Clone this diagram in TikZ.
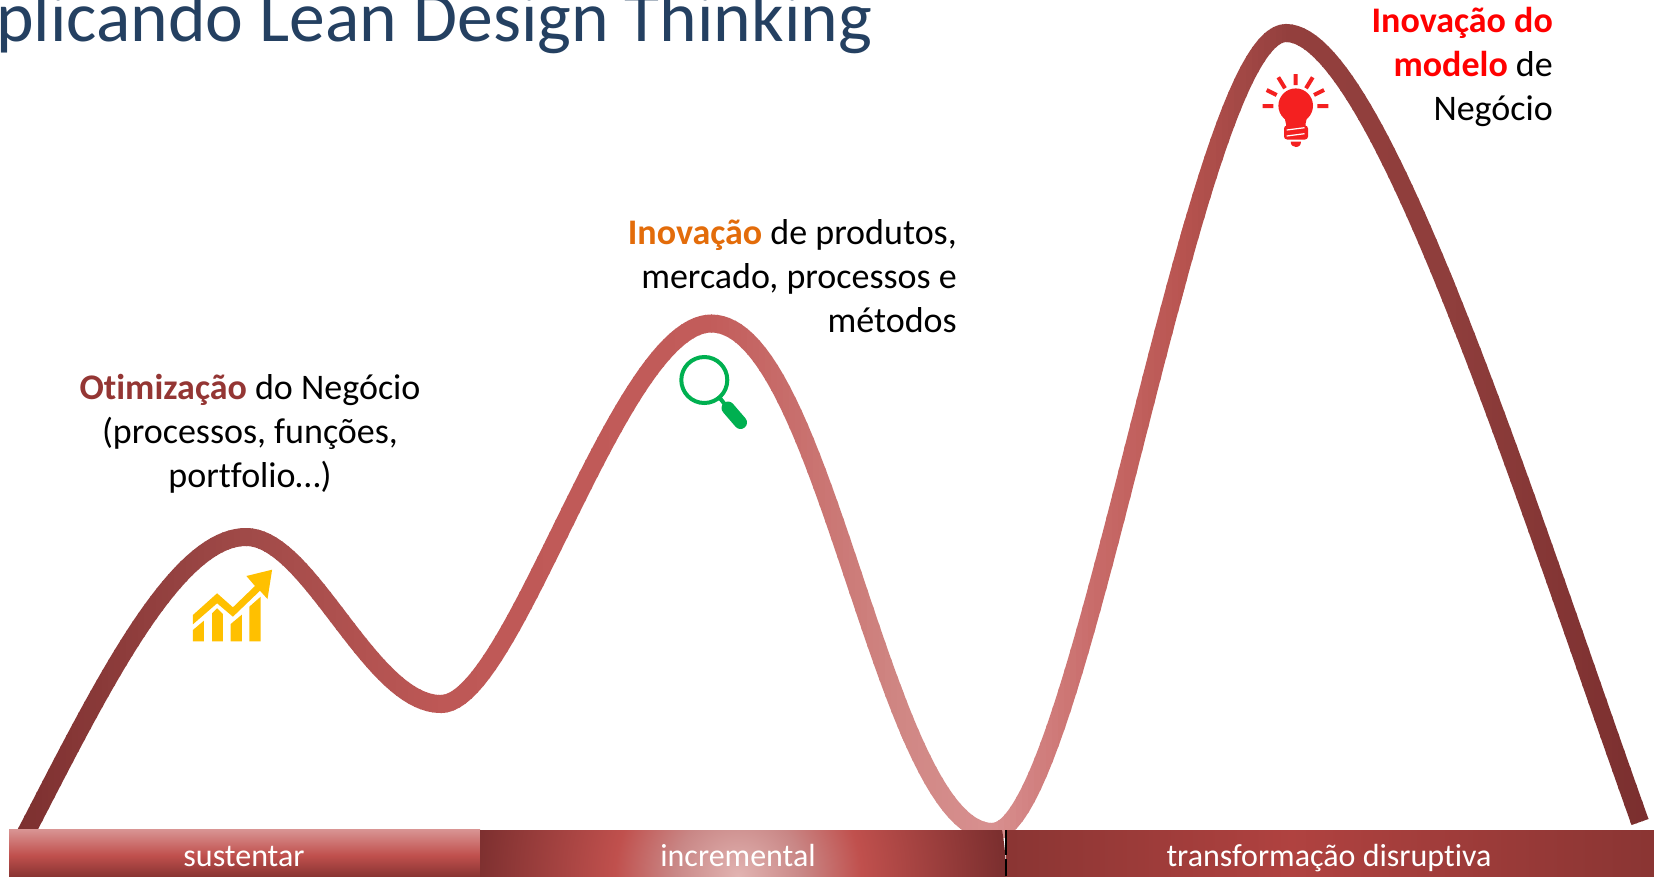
\documentclass[tikz,border=0pt]{standalone}
\usepackage{fontspec}
\setmainfont[Ligatures={NoCommon}]{Carlito}
\definecolor{titleblue}{HTML}{244061}
\definecolor{otim}{HTML}{943634}
\definecolor{inovor}{HTML}{E36C0A}
\definecolor{chartyel}{HTML}{FFC000}
\definecolor{lensgreen}{HTML}{00B050}
\definecolor{bulbred}{HTML}{F42020}
\definecolor{HexA}{HTML}{8A3533}
\definecolor{HexB}{HTML}{C0504D}
\definecolor{HexC}{HTML}{D99594}
\definecolor{HexD}{HTML}{E2B4B2}
\definecolor{HexE}{HTML}{7A2E2E}
\definecolor{HexF}{HTML}{B04240}
\definecolor{HexG}{HTML}{C98786}
\pgfdeclareverticalshading{susshade}{100bp}{color(0bp)=(HexA);color(25bp)=(HexA);color(47bp)=(HexB);color(75bp)=(HexC);color(100bp)=(HexC)}
\pgfdeclareradialshading{incshade}{\pgfpointorigin}{color(0bp)=(HexD);color(6bp)=(HexG);color(11.5bp)=(HexB);color(25bp)=(HexE);color(50bp)=(HexE)}
\pgfdeclarehorizontalshading{traShade}{100bp}{color(0bp)=(HexA);color(25bp)=(HexA);color(47bp)=(HexF);color(75bp)=(HexA);color(100bp)=(HexA)}
\newcommand\ridgepath{(20,844.4) -- (28,829) .. controls (100,690) and (175,537) .. (246,537)
  .. controls (310,537) and (370,704) .. (441,704)
  .. controls (514,704) and (619,323.5) .. (711.4,323.5)
  .. controls (825,323.5) and (884,832) .. (992.6,832)
  .. controls (1080,832) and (1194,33) .. (1286,33)
  .. controls (1378,33) and (1525,500) .. (1640,822)}
\newcommand\ridgegrad[4]{%
  \pgfmathsetmacro\gradn{int(ceil((#2-#1)/6))}%
  \foreach \k in {1,...,\gradn}{%
    \pgfmathsetmacro\xa{#1+(\k-1)*6}%
    \pgfmathsetmacro\xb{\xa+7}%
    \pgfmathsetmacro\mixp{100*(\k-0.5)/\gradn}%
    \colorlet{stripcol}{#4!\mixp!#3}%
    \begin{scope}
      \clip (\xa,0) rectangle (\xb,876);
      \draw[ridge line,draw=stripcol] \ridgepath;
    \end{scope}
  }}
\definecolor{s0}{HTML}{7A2E2E}
\definecolor{s1}{HTML}{A04A48}
\definecolor{s2}{HTML}{BE5856}
\definecolor{s3}{HTML}{C25C5A}
\definecolor{s4}{HTML}{D08784}
\definecolor{s5}{HTML}{D89090}
\definecolor{s6}{HTML}{C86A68}
\definecolor{s7}{HTML}{B85450}
\definecolor{s8}{HTML}{933F3D}
\definecolor{s9}{HTML}{8F3E3C}
\tikzset{
  ridge line/.style={line width=18pt},
  body text/.style={inner sep=0pt,font=\fontsize{36}{44}\selectfont,text=black},
  bar text/.style={inner sep=0pt,anchor=base,font=\fontsize{32}{36}\selectfont,text=white},
  ray/.style={draw=bulbred,line width=4pt},
}
\begin{document}
\begin{tikzpicture}[x=1pt,y=-1pt]
\useasboundingbox (0,0) rectangle (1654,876);
\clip (0,0) rectangle (1654,876);
\fill[white] (0,0) rectangle (1654,876);
% title
\node[anchor=base west,inner sep=0pt,text=titleblue,font=\fontsize{71.6}{80}\selectfont] (title) at (-4,41) {plicando Lean Design Thinking};
% ridge with horizontal gradient
\ridgegrad{0}{246}{s0}{s1}
\ridgegrad{246}{441}{s1}{s2}
\ridgegrad{441}{711}{s2}{s3}
\ridgegrad{711}{900}{s3}{s4}
\ridgegrad{900}{992}{s4}{s5}
\ridgegrad{992}{1100}{s5}{s6}
\ridgegrad{1100}{1180}{s6}{s7}
\ridgegrad{1180}{1286}{s7}{s8}
\ridgegrad{1286}{1450}{s8}{s9}
\ridgegrad{1450}{1654}{s9}{s0}
% bars
\shade[shading=susshade] (9,829) rectangle (480,876);
\begin{scope}
  \clip (480,830) rectangle (1007,876);
  \shade[shading=incshade] (738,876) circle[radius=268];
\end{scope}
\shade[shading=traShade] (1006,830) rectangle (1654,876);
\draw[black,line width=2.5pt] (1006,830) -- (1006,855) (1006,859) -- (1006,876);
\node[bar text] (sust) at (244,866) {sustentar};
\node[bar text] (incr) at (738,866) {incremental};
\node[bar text] (trans) at (1329,866) {transformação disruptiva};
% labels
\node[body text,align=center] (otimiza) at (250,433.5) {\textbf{\textcolor{otim}{Otimização}} do Negócio\\(processos, funções,\\portfolio…)};
\node[body text,align=right,anchor=east] (inova) at (957,276.5) {\textbf{\textcolor{inovor}{Inovação}} de produtos,\\mercado, processos e\\métodos};
\node[body text,align=right,anchor=east] (modelo) at (1553,66.5) {\textbf{\textcolor{red}{Inovação do}}\\\textbf{\textcolor{red}{modelo}} de\\Negócio};
% chart icon
\fill[chartyel] (192.9,615) -- (217.1,593.3) -- (232.9,607.3) -- (255,586) -- (246.4,576) -- (272.1,569.7) -- (267.5,599) -- (260,590.7) -- (232.9,616.7) -- (217.1,603.3) -- (192.9,624.3) -- cycle;
\fill[chartyel] (192.9,630) -- (203.9,620.7) -- (203.9,641.3) -- (192.9,641.3) -- cycle;
\fill[chartyel] (212.1,613.3) -- (217.1,608.3) -- (222.9,614) -- (222.9,641.3) -- (212.1,641.3) -- cycle;
\fill[chartyel] (230.7,624) -- (241.8,614.7) -- (241.8,641.3) -- (230.7,641.3) -- cycle;
\fill[chartyel] (249.3,606.7) -- (260.7,596.7) -- (260.7,641.3) -- (249.3,641.3) -- cycle;
% magnifier icon
\draw[lensgreen,line width=4pt] (704.3,380) circle[radius=23];
\draw[lensgreen,line width=4pt] (719,397) -- (727,407);
\draw[lensgreen,line width=13pt,line cap=round] (728,408) -- (740.5,422.5);
% bulb icon
\fill[bulbred] (1295.7,105.7) circle[radius=17.3];
\fill[bulbred] (1284,115) -- (1307.5,115) -- (1305.5,124) -- (1305.5,127) -- (1286,127) -- (1286,124) -- cycle;
\fill[bulbred,rounded corners=3pt] (1284,125.5) rectangle (1308,139.5);
\draw[white,line width=1.2pt] (1286.7,130) -- (1304.5,127.7) (1286.7,136) -- (1304.5,133.7);
\fill[bulbred] (1290.7,141.5) -- (1301,141.5) .. controls (1301,145) and (1299,147) .. (1295.8,147) .. controls (1292.7,147) and (1290.7,145) .. (1290.7,141.5) -- cycle;
\draw[ray] (1295.7,74) -- (1295.7,85) (1278.3,77.3) -- (1285,88.3) (1306,88.3) -- (1312.7,77.3) (1266.7,90) -- (1276.7,95) (1314,95) -- (1324,90) (1262.7,106) -- (1273.3,106) (1317.3,106) -- (1328.3,106);
\end{tikzpicture}
\end{document}
